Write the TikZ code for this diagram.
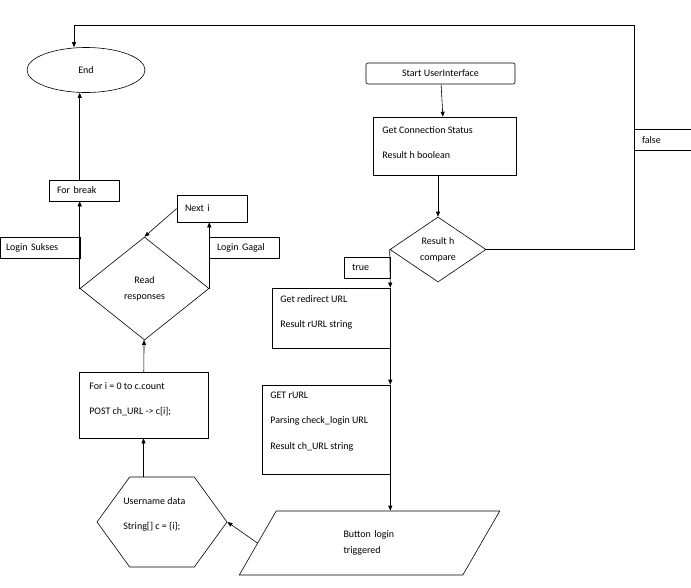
\documentclass[tikz,border=0pt]{standalone}
\usepackage{fontspec}
\setmainfont{Carlito}
\usetikzlibrary{shapes.geometric, shapes.symbols, arrows.meta, positioning}
\tikzstyle{box}      = [rectangle, draw, inner sep=0pt]
\tikzstyle{tag}      = [rectangle, draw, inner sep=0pt, minimum height=21pt, text width=#1, align=left]
\tikzstyle{decision} = [diamond, draw, inner sep=0pt, align=center]
\tikzstyle{arrow}    = [-{Triangle[length=5pt,width=4pt]}]
\tikzstyle{txt}      = [anchor=north west, align=left, inner sep=0pt, font=\linespread{2.1}\selectfont]

\begin{document}
\begin{tikzpicture}[x=1pt, y=-1pt, font=\fontsize{10}{12}\selectfont, line width=0.6pt]
    \useasboundingbox (0,0) rectangle (691,587);
    % left column
    \node (end) [ellipse, draw, minimum width=118pt, minimum height=45pt] at (86,70) {End};
    \node (brk) [tag=70pt] at (84,190.5) {\hspace*{8pt}For break};
    \node (next) [tag=70pt, minimum height=27pt] at (212,208.5) {\hspace*{8pt}Next i};
    \node (sukses) [tag=80pt] at (40,247.5) {\hspace*{6pt}Login Sukses};
    \node (gagal) [tag=70pt] at (244,247.5) {\hspace*{8pt}Login Gagal};
    \node (read) [decision, minimum width=129pt, minimum height=103pt] at (144.5,288.5) {Read\\[4pt]responses};
    \node (loop) [box, minimum width=129pt, minimum height=66pt] at (143.5,405) {};
    \node [txt] at (89,382) {For i = 0 to c.count\\POST ch\_URL -> c[i];};
    \node (user) [signal, signal to=east and west, signal pointer angle=108, draw,
      minimum width=130pt, minimum height=90pt, inner sep=0pt] at (162,522) {};
    \node [txt] at (123,497) {Username data\\String[] c = \{i\};};
    % right column
    \node (start) [box, rounded corners=2pt, minimum width=149pt, minimum height=21pt] at (440.5,73.5) {Start UserInterface};
    \node (conn) [box, minimum width=143pt, minimum height=58pt] at (444.5,146) {};
    \node [txt] at (382,126) {Get Connection Status\\Result h boolean};
    \node (cmp) [decision, minimum width=96pt, minimum height=65pt] at (438,249.5) {Result h\\[4pt]compare};
    \node (true) [tag=46pt] at (367,267.5) {\hspace*{8pt}true};
    \node (false) [tag=57pt] at (662.5,140) {\hspace*{8pt}false};
    \node (redir) [box, minimum width=118pt, minimum height=60pt] at (331,318) {};
    \node [txt] at (280,295) {Get redirect URL\\Result rURL string};
    \node (get) [box, minimum width=128pt, minimum height=89pt] at (326,429.5) {};
    \node [txt] at (270,392) {GET rURL\\Parsing check\_login URL\\Result ch\_URL string};
    \node (btn) [trapezium, trapezium left angle=60, trapezium right angle=120, draw,
      minimum height=64pt, text width=72pt, inner sep=0pt, align=left] at (369.5,543) {\hspace*{10pt}Button login\\[4pt]\hspace*{10pt}triggered};

    \coordinate (top) at (74,25);
    \coordinate (turn) at (634,25);
    \draw (cmp.east) -| (turn) -- (top);
    \draw [arrow] (top) -- (end.north -| top);
    \draw [arrow] (start) -- (conn);
    \draw [arrow] (conn.south -| cmp) -- (cmp);
    \draw [arrow] (cmp.west) -- (redir.north east);
    \draw [arrow] (redir.south east) -- (get.north east);
    \draw [arrow] (get.south east) -- (btn.north -| get.east);
    \draw [arrow] (btn.west) -- (user.east);
    \draw [arrow] (user.north -| loop) -- (loop);
    \draw [arrow] (loop) -- (read);
    \draw [arrow] (read.west) -- (brk.south -| read.west);
    \draw [arrow] (brk.north -| read.west) -- (end.south -| read.west);
    \draw [arrow] (read.east) -- (next.south -| read.east);
    \draw [arrow] (next.west) -- (read.north);
\end{tikzpicture}
\end{document}
